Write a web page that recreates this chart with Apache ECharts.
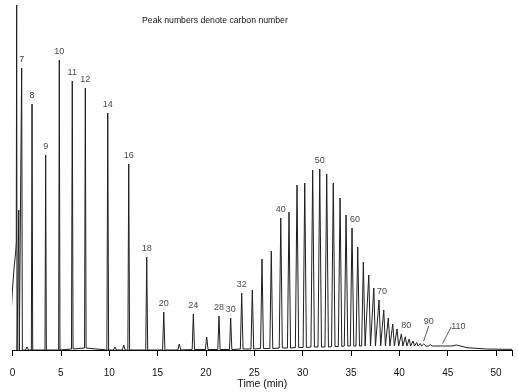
<!DOCTYPE html>
<html>
<head>
<meta charset="utf-8">
<script src="https://cdn.jsdelivr.net/npm/echarts@6/dist/echarts.min.js"></script>
<style>
html,body{margin:0;padding:0;background:#fff;}
#chart{width:518px;height:392px;}
</style>
</head>
<body>
<div id="chart"></div>
<script>
// ---- Data (time in min, signal in arbitrary units) ----
const solventTime  = [-0.40, -0.36, -0.19, -0.02, 0.16, 0.33, 0.39, 0.43, 0.47];
const solventLevel = [0, 38, 28, 58, 82, 98, 108, 345, 0];

const peakTime = [0.65, 0.95, 1.50, 2.02, 3.43, 4.84, 6.18, 7.53, 9.85, 10.60,
  11.50, 12.02, 13.88, 14.60, 15.64, 17.25, 18.70, 20.08, 21.35, 22.56,
  23.70, 24.80, 25.80, 26.76, 27.74, 28.59, 29.42, 30.22, 31.04, 31.77,
  32.49, 33.17, 33.87, 34.49, 35.11, 35.70, 36.28, 36.84, 37.36, 37.90,
  38.39, 38.86, 39.32, 39.76, 40.21, 40.62, 41.02, 41.42, 41.79, 42.16,
  42.52, 42.87, 43.21, 43.54, 43.86, 44.17, 44.47, 44.77, 45.06, 45.34];
const peakCarbon = ['', 7, '', 8, 9, 10, 11, 12, 14, '',
  '', 16, 18, '', 20, '', 24, '', 28, 30,
  32, 34, 36, 38, 40, 42, 44, 46, 48, 50,
  52, 54, 56, 58, 60, 62, 64, 66, 68, 70,
  72, 74, 76, 78, 80, 82, 84, 86, 88, 90,
  92, 94, 96, 98, 100, 102, 104, 106, 108, 110];
const peakHeight = [140, 282, 3, 246, 195, 290, 269, 262, 237, 3,
  5, 186, 93, 2, 38, 6, 36, 13, 34, 32,
  57, 60, 91, 99, 132, 138, 165, 167, 180, 181,
  176, 167, 152, 135, 122, 103, 88, 75, 62, 50,
  40, 32, 26, 21, 16, 13.3, 11, 9, 7.5, 6.5,
  6, 5.7, 5.4, 5.2, 5, 4.8, 4.6, 4.5, 4.4, 4.3];
const peakFoot = [0, 0, 0, 0, 0, 0, 1, 2, 0, 0,
  0, 0, 0, 0, 0, 0, 0.5, 0.5, 0.5, 0.5,
  1, 1, 1.5, 1.5, 2, 2, 2.5, 2.5, 3, 3,
  3, 3.5, 3.5, 4, 4, 4, 4, 4, 4, 4,
  4, 4, 4, 4, 4, 4, 4, 4, 4, 4,
  4, 4, 4, 4, 4, 4, 4, 4, 4, 4];
const peakHalfWidth = [0.05, 0.07, 0.15, 0.07, 0.07, 0.07, 0.08, 0.08, 0.09, 0.15,
  0.15, 0.09, 0.10, 0.15, 0.12, 0.15, 0.12, 0.14, 0.12, 0.12,
  0.14, 0.14, 0.15, 0.15, 0.16, 0.16, 0.17, 0.17, 0.18, 0.18,
  0.18, 0.18, 0.18, 0.18, 0.18, 0.18, 0.18, 0.18, 0.17, 0.17,
  0.17, 0.17, 0.17, 0.17, 0.16, 0.16, 0.15, 0.15, 0.14, 0.14,
  0.14, 0.13, 0.13, 0.12, 0.12, 0.12, 0.11, 0.11, 0.11, 0.11];

const tailTime  = [45.62, 45.90, 47.00, 49.00, 51.65];
const tailLevel = [4, 5, 2.3, 1, 0.6];

const labelCarbons = [7, 8, 9, 10, 11, 12, 14, 16, 18, 20, 24, 28, 30, 32, 40, 50, 60, 70, 80];
const calloutText  = ['90', '110'];
const calloutTime  = [42.5, 44.45];
const calloutLevel = [8.3, 6];

const xTicks = [0, 5, 10, 15, 20, 25, 30, 35, 40, 45, 50];
const noteText = 'Peak numbers denote carbon number';
const xName = 'Time (min)';

// ---- Build trace ----
const trace = [];
solventTime.forEach((t, i) => trace.push([t, solventLevel[i]]));
peakTime.forEach((t, i) => {
  const w = peakHalfWidth[i];
  trace.push([t - w, peakFoot[i]]);
  trace.push([t, peakHeight[i]]);
  trace.push([t + w, peakFoot[i]]);
});
tailTime.forEach((t, i) => trace.push([t, tailLevel[i]]));

const labelData = labelCarbons.map(c => {
  const i = peakCarbon.indexOf(c);
  const off = c >= 80 ? [5, 0] : (c >= 60 ? [3, 0] : [0, 0]);
  return { value: [peakTime[i], peakHeight[i]], name: String(c), label: { offset: off } };
});
const calloutData = calloutText.map((s, i) => ({ value: [calloutTime[i], calloutLevel[i]], name: s }));
const calloutShift = [[5.3, -15.5], [16, -12.2]];

const FONT = '"Liberation Sans", Arial, sans-serif';
const chart = echarts.init(document.getElementById('chart'), null, { renderer: 'canvas' });
chart.setOption({
  animation: false,
  backgroundColor: '#fff',
  title: {
    text: noteText, left: 142, top: 16, padding: 0,
    textStyle: { fontSize: 8.7, fontWeight: 'normal', color: '#111', fontFamily: FONT }
  },
  grid: { left: 12.5, right: 6, top: 5, bottom: 35, containLabel: false, outerBoundsMode: 'none' },
  xAxis: {
    type: 'value', min: 0, max: 51.65, interval: 5,
    name: xName, nameLocation: 'middle', nameGap: 22, nameMoveOverlap: false,
    nameTextStyle: { fontSize: 10.5, color: '#111', fontFamily: FONT },
    axisLine: { show: true, lineStyle: { color: '#000', width: 1 } },
    axisTick: { show: true, length: 6, lineStyle: { color: '#000' } },
    axisLabel: { fontSize: 10, color: '#111', margin: 11, fontFamily: FONT,
      customValues: xTicks, formatter: v => String(v) },
    splitLine: { show: false }
  },
  yAxis: { type: 'value', min: -7, max: 345, show: false, splitLine: { show: false } },
  series: [
    {
      type: 'line', data: trace, symbol: 'none', clip: false, silent: true,
      lineStyle: { color: '#1e1e1e', width: 1 }
    },
    {
      type: 'scatter', data: labelData, symbolSize: 0, silent: true,
      label: { show: true, position: 'top', distance: 4, formatter: p => p.name,
        fontSize: 9, color: '#111', fontFamily: FONT }
    },
    {
      type: 'scatter', data: calloutData, symbolSize: 1, silent: true,
      itemStyle: { color: 'rgba(0,0,0,0)' },
      label: { show: true, position: 'top', distance: 0, formatter: p => p.name,
        fontSize: 9, color: '#111', fontFamily: FONT },
      labelLine: { show: true, lineStyle: { color: '#333', width: 0.8 } },
      labelLayout: p => ({ dx: calloutShift[p.dataIndex][0], dy: calloutShift[p.dataIndex][1] })
    }
  ]
});
</script>
</body>
</html>
